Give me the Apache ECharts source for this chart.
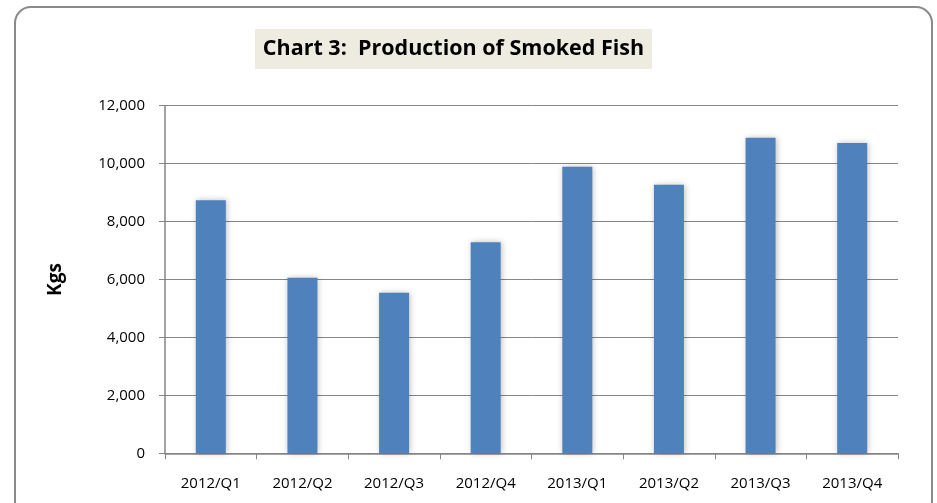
<!DOCTYPE html>
<html>
<head>
<meta charset="utf-8">
<script src="https://cdn.jsdelivr.net/npm/echarts@6/dist/echarts.min.js"></script>
<style>
html,body{margin:0;padding:0;background:#fff;}
#chart{width:937px;height:503px;}
</style>
</head>
<body>
<div id="chart"></div>
<script>
const categories = ['2012/Q1','2012/Q2','2012/Q3','2012/Q4','2013/Q1','2013/Q2','2013/Q3','2013/Q4'];
const production = [8740, 6060, 5540, 7290, 9890, 9270, 10890, 10710];
const titleText = 'Chart 3:  Production of Smoked Fish';
const yAxisName = 'Kgs';

const chart = echarts.init(document.getElementById('chart'));
const font = '"Open Sans", "Noto Sans", sans-serif';
chart.setOption({
  animation: false,
  backgroundColor: '#ffffff',
  graphic: [
    {
      type: 'rect',
      shape: { x: 15, y: 7, width: 917, height: 510, r: 16 },
      style: { fill: 'none', stroke: '#8a8a8a', lineWidth: 2 },
      z: 0
    },
    {
      type: 'rect',
      shape: { x: 255, y: 29, width: 397, height: 40 },
      style: { fill: '#eeece1' },
      z: 1
    },
    {
      type: 'text',
      x: 453.5, y: 49,
      style: {
        text: titleText,
        font: 'bold 21.5px ' + font,
        fill: '#000',
        align: 'center',
        verticalAlign: 'middle'
      },
      z: 2
    }
  ],
  grid: { left: 165, right: 39, top: 105.7, bottom: 49.7, containLabel: false },
  xAxis: {
    type: 'category',
    data: categories,
    axisLine: { lineStyle: { color: '#868686', width: 1.5 } },
    axisTick: { show: true, length: 6, lineStyle: { color: '#868686' } },
    axisLabel: { color: '#000', fontFamily: font, fontSize: 15, margin: 23 }
  },
  yAxis: {
    type: 'value',
    min: 0, max: 12000, interval: 2000,
    name: yAxisName,
    nameLocation: 'middle',
    nameGap: 100,
    nameTextStyle: { color: '#000', fontFamily: font, fontSize: 19, fontWeight: 'bold' },
    axisLine: { show: true, lineStyle: { color: '#868686', width: 1.5 } },
    axisTick: { show: true, length: 6, lineStyle: { color: '#868686' } },
    axisLabel: {
      color: '#000', fontFamily: font, fontSize: 15, margin: 20,
      formatter: v => v.toLocaleString('en-US')
    },
    splitLine: { lineStyle: { color: '#868686', width: 1 } }
  },
  series: [{
    type: 'bar',
    data: production,
    barWidth: 30,
    itemStyle: {
      color: '#4f81bd',
      shadowBlur: 6,
      shadowColor: 'rgba(0,0,0,0.25)',
      shadowOffsetX: 1,
      shadowOffsetY: 0
    }
  }]
});
</script>
</body>
</html>
